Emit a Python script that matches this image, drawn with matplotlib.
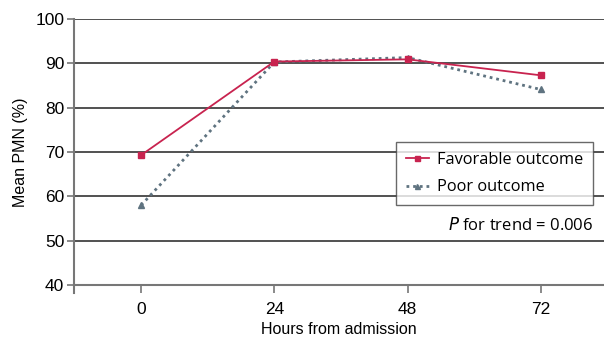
import matplotlib.pyplot as plt
from matplotlib.lines import Line2D

hours = [0, 24, 48, 72]
favorable = [69.3, 90.4, 90.9, 87.3]
poor = [58.0, 90.3, 91.3, 84.1]
yticks = [40, 50, 60, 70, 80, 90, 100]

plt.rcParams['font.family'] = ['Liberation Sans', 'DejaVu Sans']

fig = plt.figure(figsize=(6.04, 3.37), dpi=100)
ax = fig.add_axes([74 / 604, 52 / 337, 1 - 74 / 604, 266 / 337])

for y in yticks[1:]:
    ax.axhline(y, color='#222222', lw=1.1, zorder=1)

ax.plot(hours, favorable, color='#C8234F', lw=1.3, marker='s', ms=4.5,
        label='Favorable outcome', zorder=3)
ax.plot(hours, poor, color='#5F7380', lw=2, ls=(0, (1, 1.4)), marker='^', ms=4.5,
        label='Poor outcome', zorder=2)

ax.set_xlim(-12.1, 83.4)
ax.set_ylim(40, 100)
ax.set_xticks(hours)
ax.set_yticks(yticks)

for s in ['top', 'right']:
    ax.spines[s].set_visible(False)
ax.spines['left'].set_color('#777777')
ax.spines['bottom'].set_color('#777777')
ax.spines['left'].set_linewidth(1.5)
ax.spines['bottom'].set_linewidth(1.5)
ax.add_line(Line2D([0, 0], [-0.03, 0], transform=ax.transAxes, color='#777777',
                   lw=1.5, clip_on=False))

ax.tick_params(axis='y', length=5, width=1.2, color='#777777', labelsize=12.5, pad=2)
ax.tick_params(axis='x', length=6, width=1.2, color='#777777', labelsize=12.5, pad=6)

ax.set_ylabel('Mean PMN (%)', fontsize=11.5, labelpad=5)
ax.set_xlabel('Hours from admission', fontsize=11.5, labelpad=4)

leg = ax.legend(loc='upper right', bbox_to_anchor=(519 / 530, 143 / 266),
                borderaxespad=0, frameon=True, fancybox=False,
                handlelength=1.4, handletextpad=0.5,
                prop={'family': 'Open Sans', 'size': 11.8}, borderpad=0.6,
                labelspacing=0.7, markerscale=0.8)
leg.get_frame().set_edgecolor('#444444')
leg.get_frame().set_linewidth(1)

ax.text(519 / 530, 0.222, '$P$ for trend = 0.006', transform=ax.transAxes,
        ha='right', va='center', fontsize=12, family='Open Sans')

fig.savefig('out.png', dpi=100)
